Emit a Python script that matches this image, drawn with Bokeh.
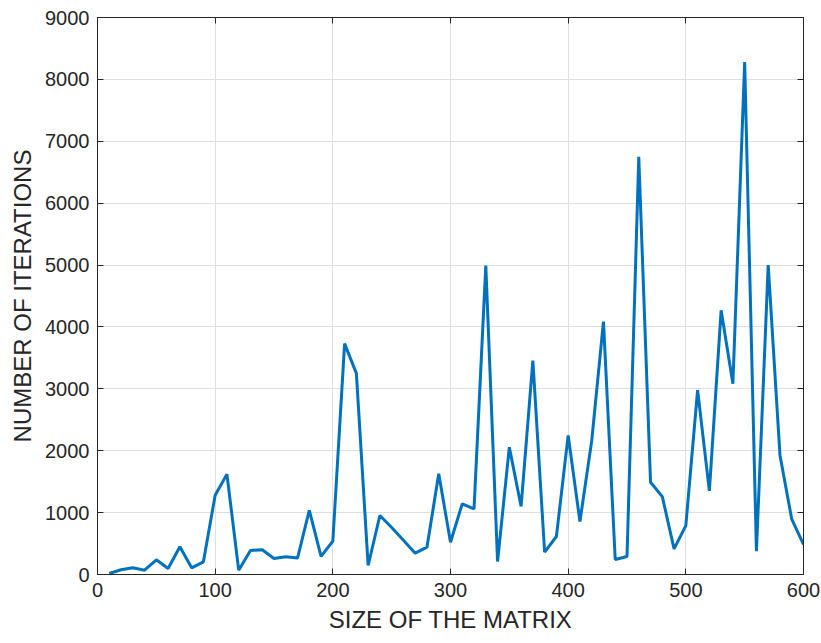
from bokeh.plotting import figure
from bokeh.models import Range1d, LinearAxis, FixedTicker
from bokeh.embed import file_html
from bokeh.resources import INLINE

matrix_size = [10, 20, 30, 40, 50, 60, 70, 80, 90, 100,
               110, 120, 130, 140, 150, 160, 170, 180, 190, 200,
               210, 220, 230, 240, 250, 260, 270, 280, 290, 300,
               310, 320, 330, 340, 350, 360, 370, 380, 390, 400,
               410, 420, 430, 440, 450, 460, 470, 480, 490, 500,
               510, 520, 530, 540, 550, 560, 570, 580, 590, 600]
iterations = [16, 76, 108, 70, 238, 97, 449, 108, 205, 1281,
              1622, 70, 389, 400, 259, 286, 265, 1038, 292, 540,
              3730, 3250, 145, 953, 760, 555, 344, 441, 1627, 522,
              1142, 1061, 4990, 210, 2057, 1100, 3457, 360, 614, 2248,
              855, 2159, 4086, 243, 292, 6750, 1490, 1259, 413, 790,
              2980, 1350, 4269, 3083, 8282, 377, 4999, 1928, 894, 486]
x_ticks = [0, 100, 200, 300, 400, 500, 600]
y_ticks = [0, 1000, 2000, 3000, 4000, 5000, 6000, 7000, 8000, 9000]

FONT = "Liberation Sans"
TXT = "#262626"

p = figure(width=821, height=643, output_backend="svg", toolbar_location=None,
           x_range=Range1d(0, 600), y_range=Range1d(0, 9000),
           min_border_left=97, min_border_right=18, min_border_top=17, min_border_bottom=69)
p.background_fill_color = "white"
p.border_fill_color = "white"
p.outline_line_color = TXT
p.outline_line_width = 1

p.line(matrix_size, iterations, line_color="#0072BD", line_width=3)

for ax, ticks in ((p.xaxis[0], x_ticks), (p.yaxis[0], y_ticks)):
    ax.ticker = FixedTicker(ticks=ticks)
    ax.major_tick_in = 6
    ax.major_tick_out = 0
    ax.minor_tick_line_color = None
    ax.axis_line_color = TXT
    ax.major_tick_line_color = TXT
    ax.major_label_text_font = FONT
    ax.major_label_text_font_size = "20px"
    ax.major_label_text_color = TXT
    ax.axis_label_text_font = FONT
    ax.axis_label_text_font_size = "24px"
    ax.axis_label_text_font_style = "normal"
    ax.axis_label_text_color = TXT

p.xaxis.axis_label = "SIZE OF THE MATRIX"
p.yaxis.axis_label = "NUMBER OF ITERATIONS"
p.xaxis.major_label_standoff = 8
p.yaxis.major_label_standoff = 8
p.xaxis.axis_label_standoff = 6
p.yaxis.axis_label_standoff = 6

for loc, ticks in (("right", y_ticks), ("above", x_ticks)):
    ax = LinearAxis(ticker=FixedTicker(ticks=ticks))
    ax.major_tick_in = 6
    ax.major_tick_out = 0
    ax.minor_tick_line_color = None
    ax.axis_line_color = TXT
    ax.major_tick_line_color = TXT
    ax.major_label_text_font_size = "0px"
    ax.major_label_text_color = None
    p.add_layout(ax, loc)

p.xgrid.ticker = FixedTicker(ticks=x_ticks)
p.ygrid.ticker = FixedTicker(ticks=y_ticks)
p.grid.grid_line_color = "#dfdfdf"
p.grid.grid_line_width = 1

open("out.html", "w").write(file_html(p, INLINE))
